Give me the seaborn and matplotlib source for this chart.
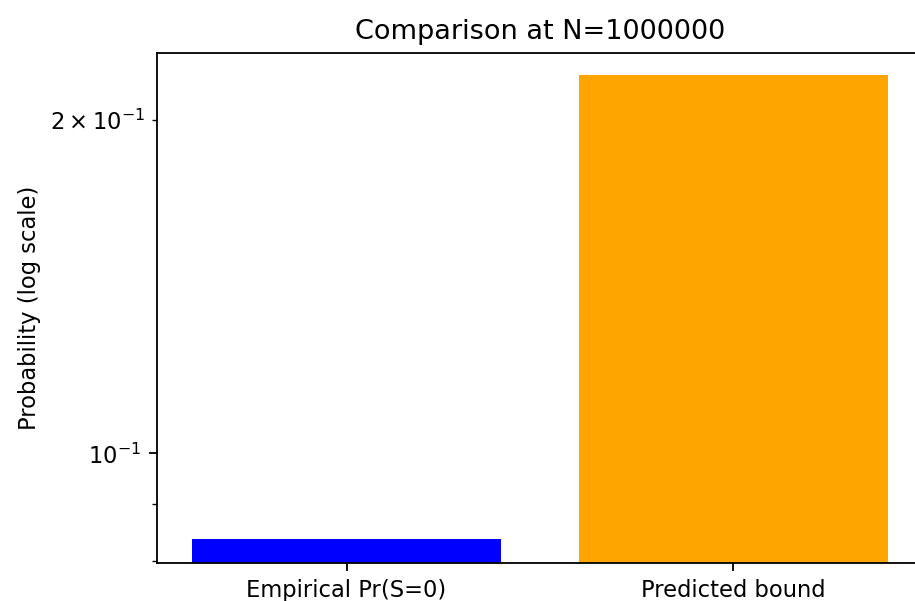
import pandas as pd
import matplotlib
matplotlib.use("Agg")
import matplotlib.pyplot as plt
import seaborn as sns

# --- Datos ---
categorias = ['Empirical Pr(S=0)', 'Predicted bound']
probabilidades = [0.0837, 0.2196]
colores = ['blue', 'orange']
N = 1000000

df = pd.DataFrame({'cat': categorias, 'prob': probabilidades})

# figura a 163 dpi para que los tamaños por defecto coincidan con la referencia
DPI = 163
fig = plt.figure(figsize=(915 / DPI, 601 / DPI), dpi=DPI)
ax = fig.add_axes([157 / 915, 38.3 / 601, 766 / 915, 510.2 / 601])

sns.barplot(data=df, x='cat', y='prob', hue='cat', palette=colores,
            saturation=1, legend=False, ax=ax, width=0.8)
ax.set_yscale('log')
ax.set_xlim(-0.49, 1.49)
ax.set_ylim(0.0797, 0.2300)

# la referencia está recortada a la derecha: no se ve el borde derecho
ax.spines['right'].set_visible(False)

ax.set_title(f'Comparison at N={N}')
ax.set_ylabel('Probability (log scale)')
ax.set_xlabel('')

fig.savefig('out.png', dpi=DPI)
